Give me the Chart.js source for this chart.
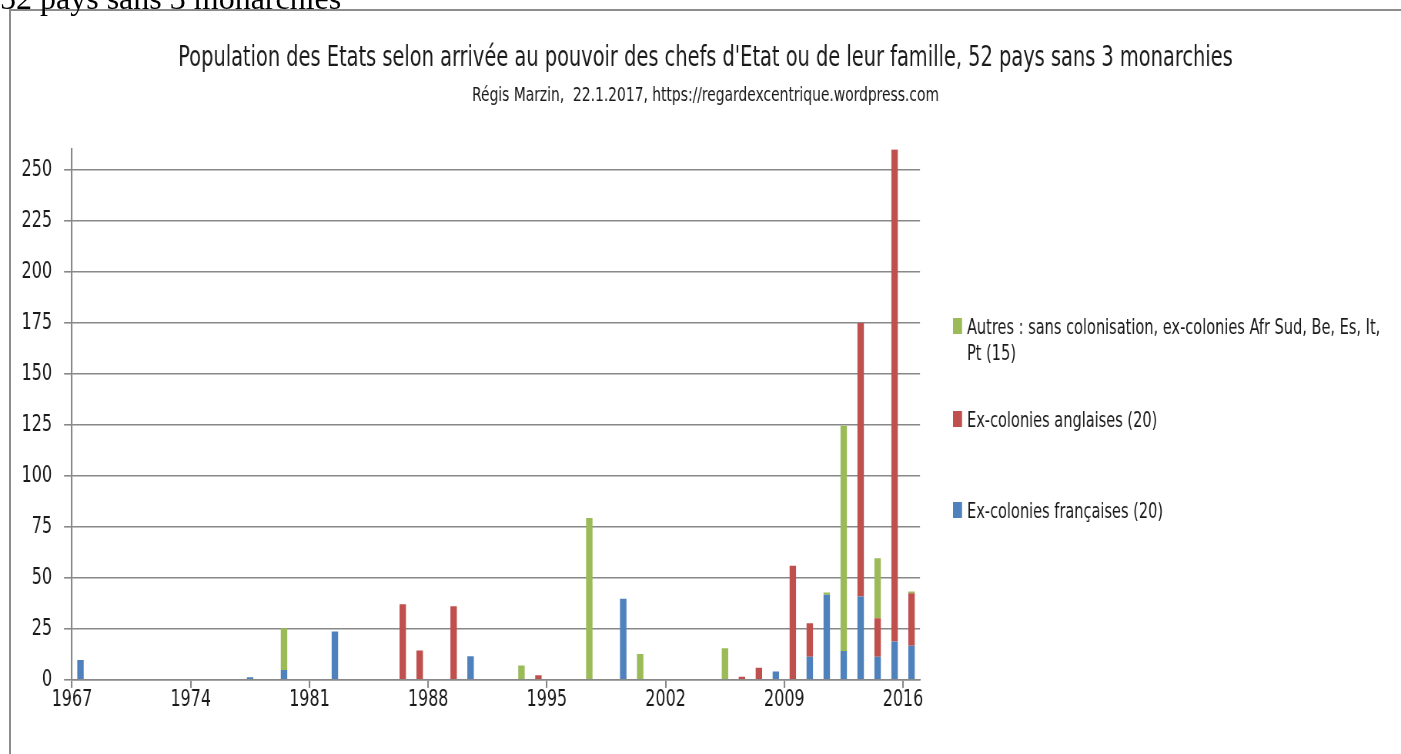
<!DOCTYPE html>
<html><head><meta charset="utf-8">
<script src="https://cdn.jsdelivr.net/npm/chart.js@4.4.1/dist/chart.umd.min.js"></script>
<style>
html,body{margin:0;padding:0;background:#fff;overflow:hidden}
#wrap{position:relative;width:1401px;height:754px;overflow:hidden;background:#fff}
#pre{position:absolute;left:0;top:-18px;font-family:"Liberation Serif","Times New Roman",serif;font-size:32px;line-height:32px;color:#000;white-space:nowrap;z-index:3}
#frame{position:absolute;left:9px;top:9px;width:1400px;height:760px;border-left:2px solid #8c8c8c;border-top:2px solid #8c8c8c;z-index:2;pointer-events:none}
#cw{position:absolute;left:0;top:0;width:1820px;height:754px;transform:scaleX(0.769780);transform-origin:0 0}
</style></head><body>
<div id="wrap">
<div id="pre">52 pays sans 3 monarchies</div>
<div id="frame"></div>
<div id="cw"><canvas id="c" width="1820" height="754"></canvas></div>
</div>
<script>
const FONT = '"Liberation Sans Narrow","Arial Narrow","DejaVu Sans Condensed",sans-serif';
const F = 1401 / 1820;           // horizontal compression of the picture
const sx = v => v / F;           // display px -> canvas px (horizontal)

const titleText = "Population des Etats selon arrivée au pouvoir des chefs d'Etat ou de leur famille, 52 pays sans 3 monarchies";
const subtitleText = "Régis Marzin,  22.1.2017, https://regardexcentrique.wordpress.com";

const years = [1967,1968,1969,1970,1971,1972,1973,1974,1975,1976,1977,1978,1979,1980,1981,1982,1983,1984,1985,1986,1987,1988,1989,1990,1991,1992,1993,1994,1995,1996,1997,1998,1999,2000,2001,2002,2003,2004,2005,2006,2007,2008,2009,2010,2011,2012,2013,2014,2015,2016];
const tickYears = [1967,1974,1981,1988,1995,2002,2009,2016];

const seriesNames = ["Ex-colonies françaises (20)", "Ex-colonies anglaises (20)", "Autres : sans colonisation, ex-colonies Afr Sud, Be, Es, It, Pt (15)"];
const seriesColors = ["#4F81BD", "#C0504D", "#9BBB59"];

//                 1967 .................................................................................................... 2016
const francaises = [9.8,0,0,0,0,0,0,0,0,0, 1.3,0,4.9,0,0,23.7,0,0,0,0, 0,0,0,11.6,0,0,0,0,0,0, 0,0,39.7,0,0,0,0,0,0,0, 0,4.1,0,11.4,41.7,14.2,40.8,11.4,18.8,16.7];
const anglaises  = [0,0,0,0,0,0,0,0,0,0, 0,0,0,0,0,0,0,0,0,37.1, 14.4,0,36.1,0,0,0,0,2.3,0,0, 0,0,0,0,0,0,0,0,0,1.5, 6.0,0,55.9,16.4,0,0,134,18.8,241,25.8];
const autres     = [0,0,0,0,0,0,0,0,0,0, 0,0,20.4,0,0,0,0,0,0,0, 0,0,0,0,0,0,7.0,0,0,0, 79.3,0,0,12.7,0,0,0,0,15.5,0, 0,0,0,0,1.1,110.3,0,29.4,0,0.8];

const yMax = 260;
const yStep = 25;

const GRID = '#888888';
const TXT = '#1a1a1a';

const legendPlugin = {
  id: 'customLegend',
  afterDraw(chart) {
    const ctx = chart.ctx;
    ctx.save();
    ctx.font = '21px ' + FONT;
    ctx.textBaseline = 'alphabetic';
    const textX = sx(967), markX = sx(953);
    const maxW = sx(425);
    const entries = [
      {name: seriesNames[2], color: seriesColors[2], base: 334},
      {name: seriesNames[1], color: seriesColors[1], base: 427},
      {name: seriesNames[0], color: seriesColors[0], base: 518}
    ];
    entries.forEach(e => {
      const words = e.name.split(' ');
      const lines = [];
      let cur = '';
      words.forEach(w => {
        const t = cur ? cur + ' ' + w : w;
        if (ctx.measureText(t).width > maxW && cur) { lines.push(cur); cur = w; } else cur = t;
      });
      lines.push(cur);
      ctx.fillStyle = e.color;
      ctx.fillRect(markX, e.base - 16, sx(9), 16);
      ctx.fillStyle = TXT;
      lines.forEach((l, i) => ctx.fillText(l, textX, e.base + i * 26));
    });
    ctx.restore();
  }
};

const plotLeft = sx(72), plotRight = sx(920), padLeft = sx(10);
const catHalf = (plotRight - plotLeft) / years.length / 2;

new Chart(document.getElementById('c'), {
  type: 'bar',
  data: {
    labels: years,
    datasets: [
      {label: seriesNames[0], data: francaises, backgroundColor: seriesColors[0]},
      {label: seriesNames[1], data: anglaises, backgroundColor: seriesColors[1]},
      {label: seriesNames[2], data: autres, backgroundColor: seriesColors[2]}
    ]
  },
  options: {
    responsive: false,
    animation: false,
    devicePixelRatio: 1,
    events: [],
    layout: {padding: {left: padLeft, right: 0, top: 9, bottom: 42.5}},
    datasets: {bar: {barPercentage: 0.38, categoryPercentage: 1, borderWidth: 0}},
    plugins: {
      legend: {display: false},
      tooltip: {enabled: false},
      title: {display: true, text: titleText, color: TXT, font: {family: FONT, size: 28, weight: 'normal', lineHeight: 1.2}, padding: {top: 33, bottom: 8}},
      subtitle: {display: true, text: subtitleText, color: TXT, font: {family: FONT, size: 20, weight: 'normal', lineHeight: 1.2}, padding: {top: 0, bottom: 41.6}}
    },
    scales: {
      x: {
        stacked: true,
        offset: true,
        grid: {offset: true, drawOnChartArea: false, drawTicks: true, tickLength: 8, lineWidth: sx(1.6),
               color: (c) => (c.index !== undefined && tickYears.includes(years[c.index])) ? GRID : 'rgba(0,0,0,0)'},
        border: {display: true, color: GRID, width: 1.6},
        ticks: {autoSkip: false, maxRotation: 0, minRotation: 0, labelOffset: -catHalf, padding: -2, color: TXT,
                font: {family: FONT, size: 23},
                callback: (v, i) => tickYears.includes(years[i]) ? String(years[i]) : ''}
      },
      y: {
        stacked: true,
        min: 0, max: yMax,
        grid: {color: GRID, lineWidth: 1.6, tickLength: sx(8)},
        border: {display: true, color: GRID, width: sx(1.6)},
        ticks: {stepSize: yStep, includeBounds: false, padding: sx(12), color: TXT, font: {family: FONT, size: 23}},
        afterFit: (s) => { s.width = plotLeft - padLeft; }
      },
      y2: {
        position: 'right',
        display: true,
        grid: {display: false},
        border: {display: false},
        ticks: {display: false},
        afterFit: (s) => { s.width = 1820 - plotRight; }
      }
    }
  },
  plugins: [legendPlugin]
});
</script>
</body></html>
